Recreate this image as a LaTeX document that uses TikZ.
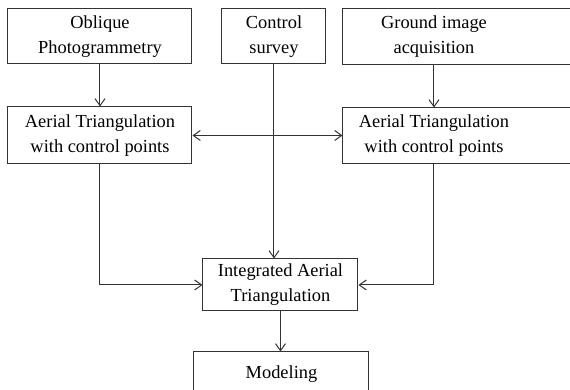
\documentclass[tikz,border=0pt]{standalone}
\usepackage{fontspec}
\setmainfont{Liberation Serif}
\usetikzlibrary{arrows.meta}
\colorlet{box edge}{black!80}
\tikzset{box/.style={draw=box edge, line width=0.5pt, align=center, inner sep=0pt,
        font=\fontsize{9.2}{12.5}\selectfont},
    opentext/.style={box, draw=none},
    frame/.style={draw=box edge, line width=0.5pt},
    link/.style={draw=box edge, line width=0.5pt, ->},
    >={Straight Barb[length=3.5pt,width=5pt]}}

\begin{document}
\begin{tikzpicture}[x=0.5pt, y=-0.5pt]
    \useasboundingbox (0,0) rectangle (570,390);
    % top row
    \node[box, minimum width=92pt, minimum height=27.5pt] (obl) at (100,36.5) {Oblique\\Photogrammetry};
    \node[box, minimum width=52pt, minimum height=27.5pt] (ctl) at (274,36.5) {Control\\survey};
    \node[opentext, minimum width=91pt, minimum height=27.5pt] (gnd) at (434,36.5) {Ground image\\acquisition};
    % triangulation row
    \node[box, minimum width=92pt, minimum height=28.5pt] (atl) at (100,135.5) {Aerial Triangulation\\with control points};
    \node[opentext, minimum width=91pt, minimum height=27.5pt] (atr) at (434,135.5) {Aerial Triangulation\\with control points};
    % bottom
    \node[box, minimum width=77.5pt, minimum height=26pt] (itg) at (280.5,285) {Integrated Aerial\\Triangulation};
    \node[box, minimum width=87.5pt, minimum height=22pt] (mod) at (281.5,374) {Modeling};
    % boxes cut by the right border
    \draw[frame] ([xshift=40pt]gnd.north east) -- (gnd.north west) -- (gnd.south west) -- ([xshift=40pt]gnd.south east);
    \draw[frame] ([xshift=40pt]atr.north east) -- (atr.north west) -- (atr.south west) -- ([xshift=40pt]atr.south east);
    % connectors
    \draw[link] (obl) -- (atl);
    \draw[link] (gnd) -- (atr);
    \draw[link, <->] (atl) -- (atr);
    \draw[link] (ctl) -- (ctl |- itg.north);
    \draw[link] (atl) |- (itg);
    \draw[link] (atr) |- (itg);
    \draw[link] (itg.south) -- (itg.south |- mod.north);
\end{tikzpicture}
\end{document}
